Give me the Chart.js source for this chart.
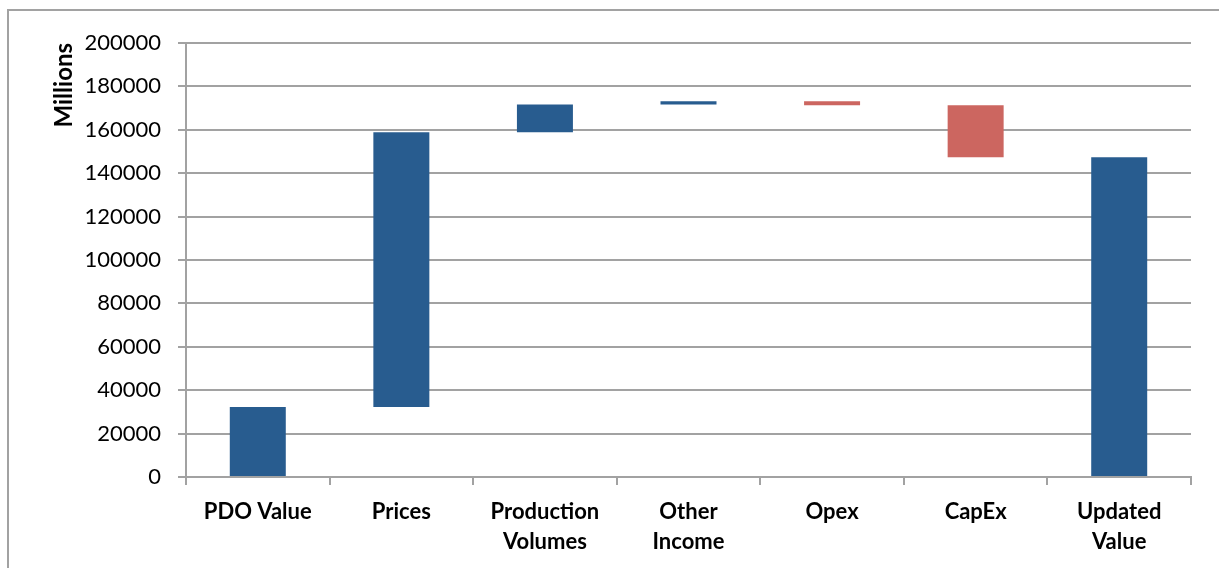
<!DOCTYPE html>
<html>
<head>
<meta charset="utf-8">
<title>Value Bridge</title>
<script src="https://cdn.jsdelivr.net/npm/chart.js@4/dist/chart.umd.min.js"></script>
<style>
    html, body { margin: 0; padding: 0; background: #fff; }
</style>
</head>
<body>
<canvas id="bridgeChart" width="1219" height="568"></canvas>
<script>
// waterfall steps, in millions
var categories = ["PDO Value", "Prices", ["Production", "Volumes"], ["Other", "Income"], "Opex", "CapEx", ["Updated", "Value"]];
var startValue = 32300;
var changes = [126600, 12800, 1500, -1900, -23900];
var endValue = 147400;

var yMin = 0;
var yMax = 200000;
var yStep = 20000;

var blue = '#285c8f';
var red = '#cc6660';
var gridColor = '#a2a2a2';

// turn the steps into floating [low, high] bars
var ranges = [[0, startValue]];
var colors = [blue];
var running = startValue;
changes.forEach(function (delta) {
    var next = running + delta;
    ranges.push([Math.min(running, next), Math.max(running, next)]);
    colors.push(delta >= 0 ? blue : red);
    running = next;
});
ranges.push([0, endValue]);
colors.push(blue);

// thin frame down the left side and across the top
var framePlugin = {
    id: 'frame',
    beforeDraw: function (chart) {
        var ctx = chart.ctx;
        ctx.save();
        ctx.strokeStyle = gridColor;
        ctx.lineWidth = 2;
        ctx.beginPath();
        ctx.moveTo(8, chart.height);
        ctx.lineTo(8, 10);
        ctx.lineTo(chart.width, 10);
        ctx.stroke();
        ctx.restore();
    }
};

var ctx = document.getElementById('bridgeChart');
var bridgeChart = new Chart(ctx, {
    type: 'bar',
    data: {
        labels: categories,
        datasets: [{
            data: ranges,
            backgroundColor: colors,
            borderWidth: 0,
            barPercentage: 0.39,
            categoryPercentage: 1
        }]
    },
    options: {
        responsive: false,
        animation: false,
        layout: {
            padding: { top: 43, right: 28, bottom: 0, left: 0 }
        },
        plugins: {
            legend: { display: false },
            tooltip: { enabled: false }
        },
        scales: {
            x: {
                grid: {
                    drawOnChartArea: false,
                    drawTicks: true,
                    tickLength: 8,
                    color: gridColor,
                    lineWidth: 2,
                    offset: true
                },
                border: { color: gridColor, width: 2 },
                ticks: {
                    color: '#000',
                    padding: 12,
                    maxRotation: 0,
                    autoSkip: false,
                    font: { family: 'Lato', size: 22, weight: 'bold', lineHeight: 1.36 }
                },
                afterFit: function (scale) { scale.height = 91; }
            },
            y: {
                min: yMin,
                max: yMax,
                ticks: {
                    stepSize: yStep,
                    color: '#000',
                    padding: 17,
                    font: { family: 'Lato', size: 22 },
                    callback: function (v) { return String(v); }
                },
                grid: {
                    color: gridColor,
                    lineWidth: 2,
                    drawTicks: true,
                    tickLength: 8
                },
                border: { color: gridColor, width: 2 },
                title: {
                    display: true,
                    text: 'Millions',
                    align: 'end',
                    color: '#000',
                    padding: { top: 50, bottom: 0 },
                    font: { family: 'Lato', size: 24, weight: 'bold' }
                },
                afterFit: function (scale) { scale.width = 186; }
            }
        }
    },
    plugins: [framePlugin]
});
</script>
</body>
</html>
